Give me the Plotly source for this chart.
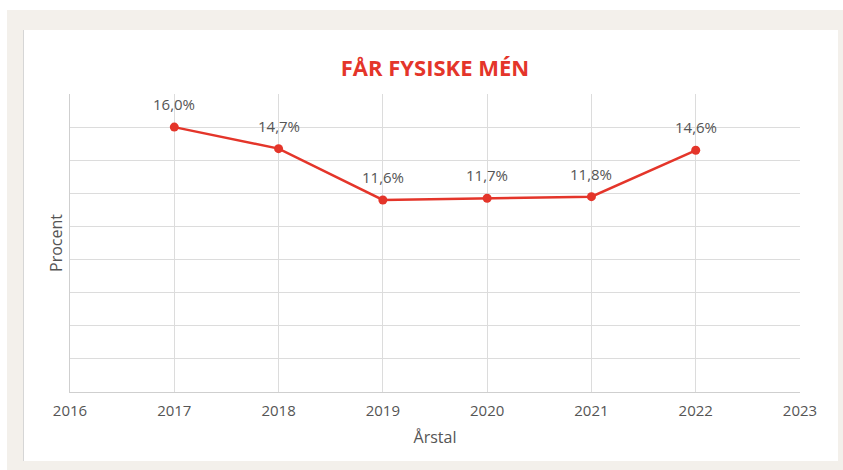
import plotly.graph_objects as go

years = [2017, 2018, 2019, 2020, 2021, 2022]
values = [16.0, 14.7, 11.6, 11.7, 11.8, 14.6]
x_ticks = [2016, 2017, 2018, 2019, 2020, 2021, 2022, 2023]

RED = "#e4352a"
GREY_TXT = "#555555"
GRID = "#dcdcdc"
FONT = "Open Sans, Roboto, sans-serif"

fig = go.Figure()
fig.add_trace(go.Scatter(
    x=years, y=values,
    mode="lines+markers",
    line=dict(color=RED, width=2.5),
    marker=dict(color=RED, size=9),
    hoverinfo="skip",
    showlegend=False,
))

annotations = [
    dict(x=xv, y=yv, xref="x", yref="y", text=f"{yv:.1f}%".replace(".", ","),
         showarrow=False, yshift=23, yanchor="middle",
         font=dict(family=FONT, size=15, color=GREY_TXT))
    for xv, yv in zip(years, values)
]

W, H = 843, 470
L, R, T, B = 70, 43, 94, 78
pw, ph = W - L - R, H - T - B

def px(x):
    return (x - L) / pw

def py(y):
    return (H - B - y) / ph

shapes = [
    dict(type="rect", xref="paper", yref="paper", x0=px(7), x1=px(843), y0=py(470), y1=py(10),
         fillcolor="#f3f0eb", line=dict(width=0), layer="below"),
    dict(type="rect", xref="paper", yref="paper", x0=px(23), x1=px(838), y0=py(461), y1=py(30),
         fillcolor="#ffffff", line=dict(width=0), layer="below"),
    dict(type="line", xref="paper", yref="paper", x0=px(23.5), x1=px(23.5), y0=py(461), y1=py(30),
         line=dict(color="#d6d6d6", width=1), layer="below"),
]

fig.update_layout(
    width=W, height=H,
    margin=dict(l=L, r=R, t=T, b=B),
    paper_bgcolor="#ffffff",
    plot_bgcolor="rgba(0,0,0,0)",
    separators=",.",
    shapes=shapes,
    annotations=annotations,
    title=dict(text="<b>FÅR FYSISKE MÉN</b>", x=0.5, xref="paper", xanchor="center",
               y=1 - 68 / H, yanchor="middle",
               font=dict(family=FONT, size=22, color=RED)),
    xaxis=dict(range=[2016, 2023], tickvals=x_ticks, ticktext=[str(t) for t in x_ticks],
               showgrid=True, gridcolor=GRID, gridwidth=1,
               showline=True, linecolor="#cfcfcf", linewidth=1, zeroline=False,
               ticks="", ticklabelstandoff=5,
               tickfont=dict(family=FONT, size=15, color=GREY_TXT),
               title=dict(text="Årstal", font=dict(family=FONT, size=16, color=GREY_TXT), standoff=12)),
    yaxis=dict(range=[0, 18], dtick=2, showticklabels=False,
               showgrid=True, gridcolor=GRID, gridwidth=1,
               showline=True, linecolor="#cfcfcf", linewidth=1, zeroline=False, ticks="",
               title=dict(text="Procent", font=dict(family=FONT, size=16, color=GREY_TXT), standoff=2)),
)

fig.write_html("out.html", config={"displayModeBar": False},
               post_script="document.body.style.margin='0';")
